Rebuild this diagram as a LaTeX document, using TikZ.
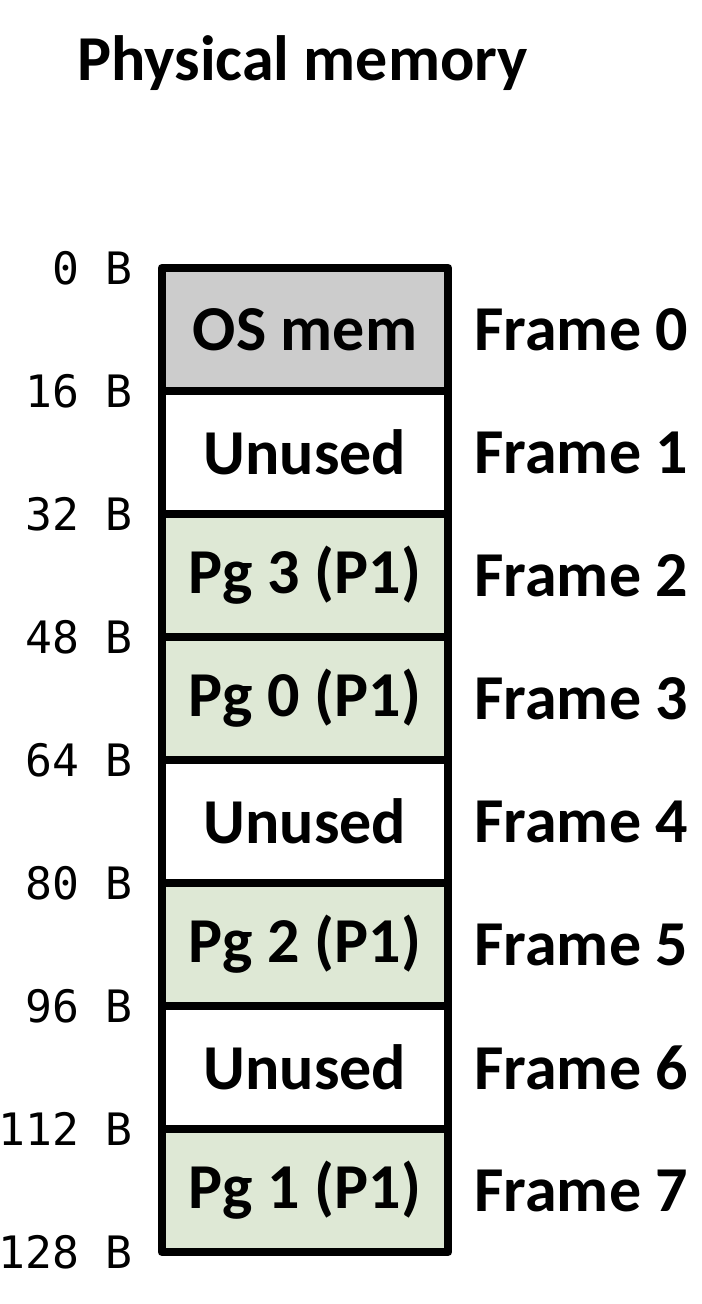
\documentclass[tikz,border=0pt]{standalone}
\usepackage{fontspec}
\setmainfont{Carlito}
\newfontfamily\addrfont{DejaVu Sans Mono}
\usetikzlibrary{positioning}
\definecolor{osgray}{HTML}{CCCCCC}
\definecolor{pggreen}{HTML}{DEE8D5}

\begin{document}
\begin{tikzpicture}[x=0.75pt, y=-0.75pt, line join=round,
    font=\fontsize{48}{58}\selectfont\bfseries]
    \newcommand\rowh{123}
\newcommand\memtop{268}
\tikzset{
    frame/.style={draw, line width=6pt, minimum width=215pt,
        minimum height=92.25pt, inner sep=0pt},
    framelabel/.style={inner sep=0pt, anchor=west},
    addr/.style={inner sep=0pt, anchor=east,
        font=\addrfont\fontsize{33.5}{40}\selectfont}
}

\useasboundingbox (0, 0) rectangle (702, 1304);

\node[inner sep=0pt, anchor=base west] (title) at (77, 80) {Physical memory};

\foreach \i/\txt/\col in {0/OS mem/osgray, 1/Unused/white,
    2/Pg 3 (P1)/pggreen, 3/Pg 0 (P1)/pggreen, 4/Unused/white,
    5/Pg 2 (P1)/pggreen, 6/Unused/white, 7/Pg 1 (P1)/pggreen}
{
    \node[frame, fill=\col] (f\i) at (305, {\memtop + \rowh * (\i + 0.5)}) {\txt};
    \node[framelabel, right=16.5pt of f\i.east] (fl\i) {Frame \i};
}

    % byte addresses on the frame borders
    \foreach \i/\addrval in {0/0, 1/16, 2/32, 3/48, 4/64, 5/80, 6/96, 7/112, 8/128}
        \node[addr] (a\i) at (133, {\memtop + \rowh * \i}) {\addrval{} B};
\end{tikzpicture}
\end{document}
